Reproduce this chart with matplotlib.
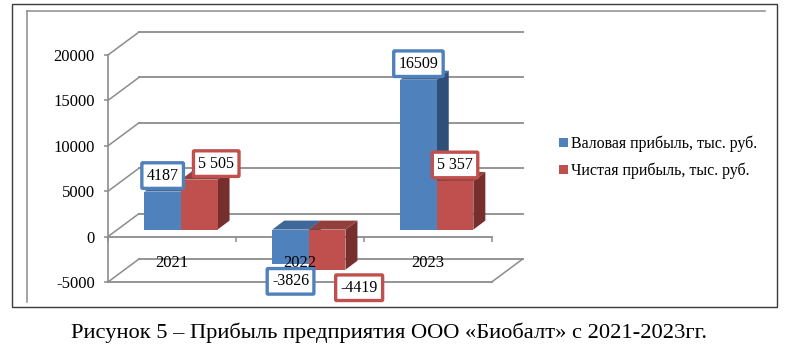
from matplotlib import pyplot as plt
from matplotlib.patches import Patch, Polygon, Rectangle
from matplotlib.lines import Line2D

plt.rcParams['font.family'] = ['Liberation Serif', 'DejaVu Serif']

years = ["2021", "2022", "2023"]
gross = [4187, -3826, 16509]
net = [5505, -4419, 5357]
gross_labels = ["4187", "-3826", "16509"]
net_labels = ["5 505", "-4419", "5 357"]
series_names = ["Валовая прибыль, тыс. руб.", "Чистая прибыль, тыс. руб."]
y_ticks = [-5000, 0, 5000, 10000, 15000, 20000]
caption = "Рисунок 5 – Прибыль предприятия ООО «Биобалт» с 2021-2023гг."

W, H = 800, 360
GRID = "#8c8c8c"
BLUE = ("#4f81bd", "#3f6797", "#2f4f78")
RED = ("#c0504d", "#93403d", "#772f2d")

fig = plt.figure(figsize=(W / 100, H / 100), dpi=100, facecolor="white")

# plot area in pixels of the picture
left, right, top, bottom = 108, 491.7, 55, 282
ax = fig.add_axes([left / W, 1 - bottom / H, (right - left) / W, (bottom - top) / H])
ax.set_xlim(0, len(years))
ax.set_ylim(-5000, 20000)
ax.patch.set_visible(False)

# pixel -> data scale for the fake 3d depth
px_x = len(years) / (right - left)
px_y = 25000 / (bottom - top)

back_x, back_y = 31 * px_x, 23 * px_y
for v in y_ticks:
    ax.plot([0, back_x], [v, v + back_y], color=GRID, lw=1.1, clip_on=False, zorder=1)
    ax.plot([back_x, len(years) + back_x], [v + back_y, v + back_y], color=GRID, lw=1.3,
            clip_on=False, zorder=1)
ax.plot([0, len(years)], [-5000, -5000], color=GRID, lw=1.3, clip_on=False, zorder=1)
ax.plot([len(years), len(years) + back_x], [-5000, -5000 + back_y], color=GRID, lw=1.1,
        clip_on=False, zorder=1)

shift_x, shift_y = 9 * px_x, 7 * px_y
depth_x, depth_y = 12 * px_x, 9 * px_y
bar_w = 36.6 * px_x


def box3d(x0, v, colors, z):
    x1 = x0 + bar_w
    y0 = shift_y
    y1 = v + shift_y
    hi = max(y0, y1)
    side = [(x1, y0), (x1 + depth_x, y0 + depth_y), (x1 + depth_x, y1 + depth_y), (x1, y1)]
    upper = [(x0, hi), (x1, hi), (x1 + depth_x, hi + depth_y), (x0 + depth_x, hi + depth_y)]
    ax.add_patch(Polygon(side, fc=colors[2], ec="none", clip_on=False, zorder=z))
    ax.add_patch(Polygon(upper, fc=colors[1], ec="none", clip_on=False, zorder=z))
    ax.add_patch(Rectangle((x0, min(y0, y1)), bar_w, abs(v), fc=colors[0], ec="none",
                           clip_on=False, zorder=z + 0.1))


for i in range(len(years)):
    center = i + 0.5 + shift_x
    box3d(center - bar_w, gross[i], BLUE, 3 + i)
    box3d(center, net[i], RED, 3.3 + i)

# value boxes, offset from the bar end in pixels
gross_off = [(0, 16), (0, -17), (0, 16)]
net_off = [(17, 16), (32, -18), (0, 16)]


def value_box(x, v, text, off, color):
    ax.annotate(text, xy=(x, v + shift_y), xytext=(off[0] * 0.72, off[1] * 0.72),
                textcoords="offset points", ha="center", va="center", fontsize=11.5,
                color="black", zorder=13, annotation_clip=False,
                bbox=dict(boxstyle="round,pad=0.3,rounding_size=0.06", fc="white", ec=color, lw=2.4))


for i in range(len(years)):
    center = i + 0.5 + shift_x
    value_box(center - bar_w / 2, gross[i], gross_labels[i], gross_off[i], BLUE[0])
    value_box(center + bar_w / 2, net[i], net_labels[i], net_off[i], RED[0])

# axes
for s in ["top", "right"]:
    ax.spines[s].set_visible(False)
ax.spines["left"].set_color(GRID)
ax.spines["left"].set_linewidth(1.2)
ax.spines["bottom"].set_position(("data", 0))
ax.spines["bottom"].set_color(GRID)
ax.spines["bottom"].set_linewidth(1.3)
ax.spines["bottom"].set_zorder(2)
ax.set_yticks(y_ticks)
ax.set_yticklabels([str(v) for v in y_ticks])
ax.tick_params(axis="y", color=GRID, length=3, width=1.1, pad=6.5, labelsize=12)
ax.set_xticks(range(len(years) + 1))
ax.set_xticklabels([""] * (len(years) + 1))
ax.tick_params(axis="x", which="major", color=GRID, length=3.5, width=1.1)
ax.set_xticks([i + 0.5 for i in range(len(years))], minor=True)
ax.set_xticklabels(years, minor=True)
ax.tick_params(axis="x", which="minor", length=0, pad=13.5, labelsize=12, labelcolor="black")
# 2022 sits on top of the negative bar
ax.xaxis.set_zorder(12)

# legend
handles = [Patch(fc=BLUE[0], ec="none"), Patch(fc=RED[0], ec="none")]
fig.legend(handles, series_names, loc="center left", bbox_to_anchor=(552.6 / W, 1 - 157.5 / H),
           frameon=False, fontsize=11.5, handlelength=0.56, handleheight=0.56,
           handletextpad=0.2, labelspacing=0.66, borderpad=0.4, borderaxespad=0)

# frames of the pasted picture
fig.add_artist(Rectangle((12 / W, 1 - 307 / H), (776.7 - 12) / W, (307 - 4) / H,
                         transform=fig.transFigure, fc="none", ec="#3a3a3a", lw=1.0))
fig.add_artist(Line2D([26.7 / W, 765 / W], [1 - 10.5 / H, 1 - 10.5 / H], color="#8c8c8c", lw=1.1))
fig.add_artist(Line2D([26.7 / W, 26.7 / W], [1 - 10.5 / H, 1 - 301.5 / H], color="#8c8c8c", lw=1.1))

fig.text(389 / W, 1 - 332.5 / H, caption, ha="center", va="center", fontsize=16.2, color="black")

fig.savefig("out.png", dpi=100)
